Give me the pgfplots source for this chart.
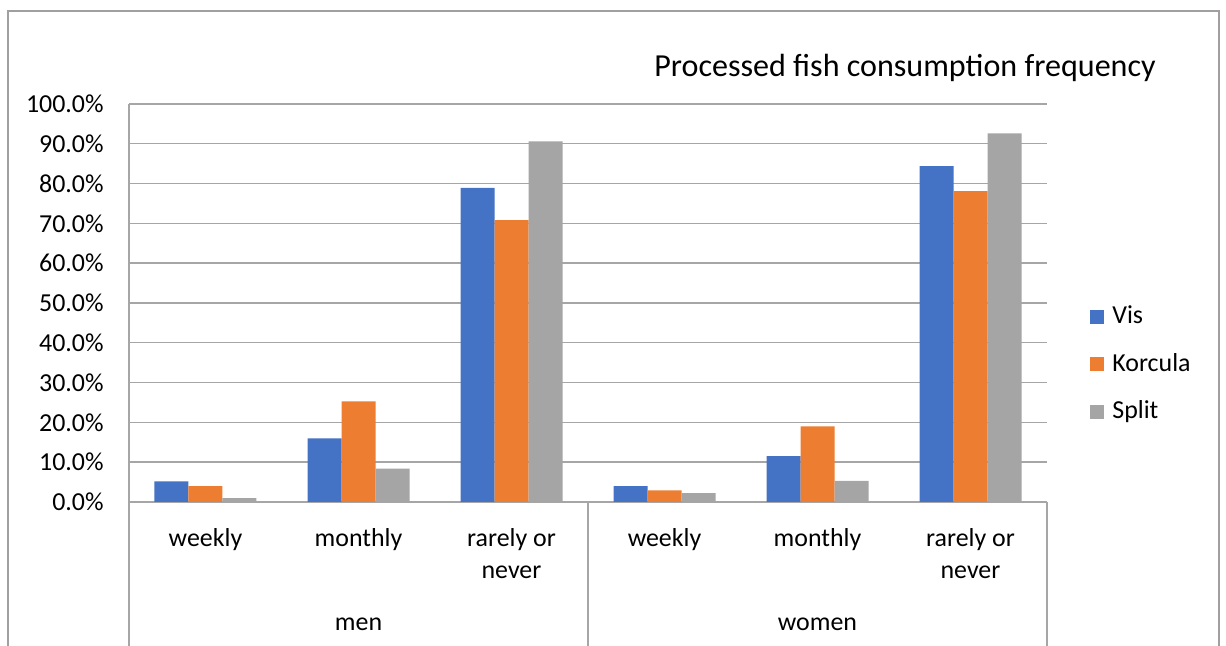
\documentclass[border=0pt]{standalone}
\usepackage{fontspec}
\setmainfont{Carlito}
\usepackage{pgfplots}
\pgfplotsset{compat=1.18}

\definecolor{visblue}{HTML}{4472C4}
\definecolor{korange}{HTML}{ED7D31}
\definecolor{splitgray}{HTML}{A5A5A5}
\definecolor{gridgray}{HTML}{A6A6A6}
\definecolor{framegray}{HTML}{A0A0A0}

\begin{document}
\begin{tikzpicture}
\useasboundingbox (-64.5bp,-72bp) rectangle (548.5bp,251bp);
\begin{axis}[
    at={(0,0)}, anchor=south west,
    scale only axis, width=459bp, height=199bp,
    ymin=0, ymax=100, ytick={0,10,...,100},
    xmin=-0.5, xmax=5.5, xtick={0,...,5},
    xticklabels={weekly, monthly, {rarely or\\never}, weekly, monthly, {rarely or\\never}},
    ybar=0pt, bar width=17bp,
    ymajorgrids, grid style={gridgray, line width=0.7bp},
    axis line style={draw=none},
    major tick length=0pt,
    tick label style={font=\fontsize{13}{16}\selectfont, inner sep=0pt},
    xticklabel style={align=center, anchor=north, yshift=-13bp},
    yticklabel style={anchor=east, xshift=-12.5bp},
    yticklabel={\pgfmathprintnumber[fixed,fixed zerofill,precision=1]{\tick}\%},
    /pgf/number format/assume math mode=true,
    legend style={draw=none, fill=none, at={(1.0468,0.344)}, anchor=west,
        inner sep=0pt, font=\fontsize{13}{16}\selectfont, row sep=11.75bp,
        nodes={inner sep=0pt, text height=9bp, text depth=3bp},
        /tikz/every odd column/.append style={column sep=4bp}},
    legend cell align=left,
    legend image code/.code={\draw[#1, draw=none] (0bp,-3bp) rectangle (7bp,4bp);},
]
\addplot[fill=visblue, draw=none] coordinates {(0,5.2) (1,16.0) (2,78.9) (3,4.0) (4,11.5) (5,84.4)};
\addplot[fill=korange, draw=none] coordinates {(0,4.0) (1,25.3) (2,70.8) (3,2.9) (4,19.0) (5,78.1)};
\addplot[fill=splitgray, draw=none] coordinates {(0,1.0) (1,8.4) (2,90.6) (3,2.2) (4,5.3) (5,92.6)};
\legend{Vis, Korcula, Split}
\end{axis}
% category separators and left axis line
\draw[gridgray, line width=0.7bp] (0,199bp) -- (0,-80bp);
\draw[gridgray, line width=0.7bp] (229.5bp,0) -- (229.5bp,-80bp);
\draw[gridgray, line width=0.7bp] (459bp,0) -- (459bp,-80bp);
% chart frame
\draw[framegray, line width=0.7bp] (-60.5bp,-80bp) rectangle (545bp,245.5bp);
% title and group labels
\node[anchor=base west, inner sep=0pt, font=\fontsize{16.1}{19}\selectfont] at (262.5bp,212.5bp) {Processed fish consumption frequency};
\node[anchor=base, inner sep=0pt, font=\fontsize{13}{16}\selectfont] at (114.75bp,-64bp) {men};
\node[anchor=base, inner sep=0pt, font=\fontsize{13}{16}\selectfont] at (344.25bp,-64bp) {women};
\end{tikzpicture}
\end{document}
